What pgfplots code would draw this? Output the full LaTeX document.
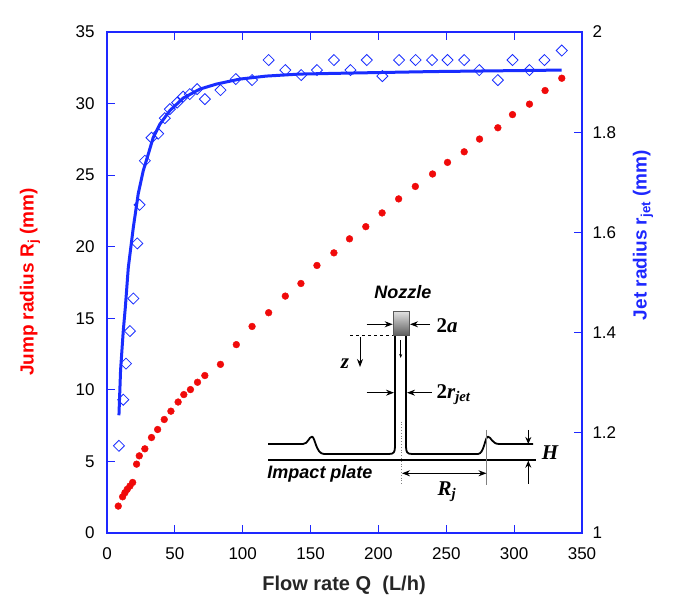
\documentclass[border=0pt]{standalone}
\usepackage{pgfplots}
\pgfplotsset{compat=1.18}
\usepackage{fontspec}
\setmainfont{Liberation Sans}
\newfontfamily\seriff{Liberation Serif}
\usetikzlibrary{arrows.meta}
\definecolor{axblue}{RGB}{30,40,255}
\definecolor{lineblue}{RGB}{25,45,255}
\definecolor{ptred}{RGB}{240,10,10}
\pgfplotstableread{
Q R
8.3 1.88
11.5 2.53
13.2 2.81
14.9 3.05
16.9 3.28
18.9 3.53
21.8 4.81
23.8 5.39
27.9 5.88
32.8 6.67
37.3 7.23
42.2 7.93
47.1 8.51
52.4 9.15
56.6 9.67
61.5 10.02
66.7 10.53
72.1 11.0
83.6 11.78
95.3 13.16
106.9 14.43
119.1 15.39
131.4 16.55
142.9 17.43
154.7 18.69
167.2 19.57
178.7 20.55
190.7 21.4
202.7 22.36
214.9 23.34
227.2 24.21
239.9 25.08
250.9 25.89
263.2 26.63
274.5 27.52
288 28.31
298.8 29.23
311.3 29.96
322.8 30.91
335.1 31.77
}\jumpdata
\pgfplotstableread{
Q r
8.8 1.174
12 1.266
14 1.338
16.9 1.403
19.4 1.468
22.3 1.578
24 1.655
27.9 1.743
32.8 1.789
37.7 1.797
42.6 1.828
46.3 1.846
51.7 1.859
56.1 1.871
61 1.876
66.4 1.886
72.1 1.866
83.6 1.884
94.9 1.906
106.9 1.904
119.1 1.944
131.4 1.924
143.1 1.914
154.7 1.924
167.2 1.944
179.4 1.924
191.4 1.944
202.9 1.912
215.2 1.944
227.4 1.944
239.5 1.944
250.9 1.944
263.2 1.944
274.3 1.924
288 1.904
298.8 1.944
311.3 1.924
322.3 1.944
335.1 1.963
}\jetdata
\pgfplotstableread{
Q r
8.8 1.235
10 1.325
12 1.404
13.5 1.45
15.7 1.53
19.4 1.61
23 1.677
26.7 1.723
30.4 1.756
34 1.789
39 1.816
46.3 1.843
56.1 1.868
68.4 1.886
80.6 1.896
97.8 1.906
117.4 1.912
141.9 1.916
178.7 1.918
240 1.921
335 1.924
}\fitdata
\begin{document}
\begin{tikzpicture}
\path[use as bounding box] (-107pt,-82pt) rectangle (576pt,533pt);
\begin{axis}[
  at={(0pt,0pt)}, anchor=south west,
  scale only axis, width=475pt, height=501pt,
  xmin=0, xmax=350, ymin=0, ymax=35,
  xtick={0,50,...,350}, ytick={0,5,...,35},
  xtick pos=both, ytick pos=left,
  tick align=inside, major tick length=8pt,
  axis line style={axblue, line width=1.5pt},
  every tick/.style={axblue, line width=1.2pt},
  tick label style={font=\fontsize{17}{20}\selectfont, text=black},
  /pgf/number format/assume math mode=true,
  xticklabel style={yshift=-11pt},
  yticklabel style={xshift=-9pt},
  clip=false,
]
\addplot[only marks, mark=*, mark size=3.4pt, ptred, mark options={fill=ptred, draw=ptred}] table[x=Q,y=R] {\jumpdata};
\end{axis}
\begin{axis}[
  at={(0pt,0pt)}, anchor=south west,
  scale only axis, width=475pt, height=501pt,
  xmin=0, xmax=350, ymin=1, ymax=2,
  axis x line=none, axis y line*=right,
  ytick={1,1.2,...,2.01},
  tick align=inside, major tick length=8pt,
  axis line style={axblue, line width=2pt, -},
  every tick/.style={axblue, line width=1.2pt},
  tick label style={font=\fontsize{17}{20}\selectfont, text=black},
  /pgf/number format/assume math mode=true,
  yticklabel style={xshift=7pt},
  clip=false,
]
\addplot[only marks, mark=square, mark size=3.9pt, lineblue, mark options={rotate=45, line width=0.8pt, draw=lineblue, fill=white}] table[x=Q,y=r] {\jetdata};
\addplot[lineblue, line width=3pt, no marks] table[x=Q,y=r] {\fitdata};
\end{axis}
\begin{scope}[shift={(-107pt,533pt)}, x=1pt, y=-1pt]
  % axis titles
  \node[rotate=90, text=red, font=\bfseries\fontsize{19}{22}\selectfont] at (30,282) {Jump radius R\textsubscript{j} (mm)};
  \node[rotate=90, text=axblue, font=\bfseries\fontsize{19}{22}\selectfont] at (643,235) {Jet radius r\textsubscript{jet} (mm)};
  \node[text=black!85, font=\bfseries\fontsize{20}{24}\selectfont] at (344,585) {Flow rate Q\ \ (L/h)};
  % inset diagram
  \draw[line width=1.8pt, line join=round] (268,444) -- (303,444)
     .. controls (308,444) and (309,436.7) .. (312,436.7)
     .. controls (315,436.7) and (316,454) .. (324,454) -- (389,454)
     .. controls (394,454) and (395,452) .. (395,446) -- (395,335);
  \draw[line width=1.8pt, line join=round] (406,335) -- (406,446)
     .. controls (406,452) and (407,454) .. (412,454) -- (478,454)
     .. controls (484,454) and (485,436.7) .. (488,436.7)
     .. controls (491,436.7) and (492,444) .. (499,444) -- (533,444);
  \draw[line width=1.5pt] (268,460) -- (536,460);
  \shade[top color=gray!25, bottom color=gray!75!black] (393.3,311.7) rectangle (409.3,335);
  \draw[gray!70!black, line width=0.6pt] (393.3,311.7) rectangle (409.3,335);
  \draw[-{Stealth[length=8pt,width=6pt]}, line width=1pt] (366.7,324.3) -- (392.7,324.3);
  \draw[-{Stealth[length=8pt,width=6pt]}, line width=1pt] (430,324.3) -- (410,324.3);
  \draw[dashed, line width=0.8pt] (350,335) -- (393,335);
  \draw[-{Stealth[length=8pt,width=6pt]}, line width=1pt] (360,337) -- (360,367);
  \draw[-{Stealth[length=4pt,width=3pt]}, line width=0.6pt] (400.7,340) -- (400.7,358);
  \draw[-{Stealth[length=8pt,width=6pt]}, line width=1pt] (366.7,392.7) -- (394,392.7);
  \draw[-{Stealth[length=8pt,width=6pt]}, line width=1pt] (431.7,392.7) -- (407,392.7);
  \draw[gray, dotted, line width=0.8pt] (401.7,421.7) -- (401.7,485);
  \draw[gray, line width=0.5pt] (486.7,430) -- (486.7,485);
  \draw[{Stealth[length=8pt,width=6pt]}-{Stealth[length=8pt,width=6pt]}, line width=1pt] (402,473.3) -- (486.5,473.3);
  \draw[-{Stealth[length=7pt,width=6pt]}, line width=1pt] (528.3,430) -- (528.3,444);
  \draw[-{Stealth[length=7pt,width=6pt]}, line width=1pt] (528.3,484) -- (528.3,460.7);
  \node[font=\bfseries\itshape\fontsize{18}{21}\selectfont] at (403,292) {Nozzle};
  \node[font=\bfseries\itshape\fontsize{18}{21}\selectfont] at (320,474) {Impact plate};
  \node[anchor=west, font=\seriff\bfseries\fontsize{21}{24}\selectfont] at (433,326) {2\textit{a}};
  \node[anchor=west, font=\seriff\bfseries\fontsize{21}{24}\selectfont] at (433,395) {2\textit{r}\textsubscript{\textit{jet}}};
  \node[font=\seriff\bfseries\itshape\fontsize{21}{24}\selectfont] at (345,364) {z};
  \node[font=\seriff\bfseries\itshape\fontsize{21}{24}\selectfont] at (447,492) {R\textsubscript{j}};
  \node[font=\seriff\bfseries\itshape\fontsize{21}{24}\selectfont] at (550,453) {H};
\end{scope}
\end{tikzpicture}
\end{document}
